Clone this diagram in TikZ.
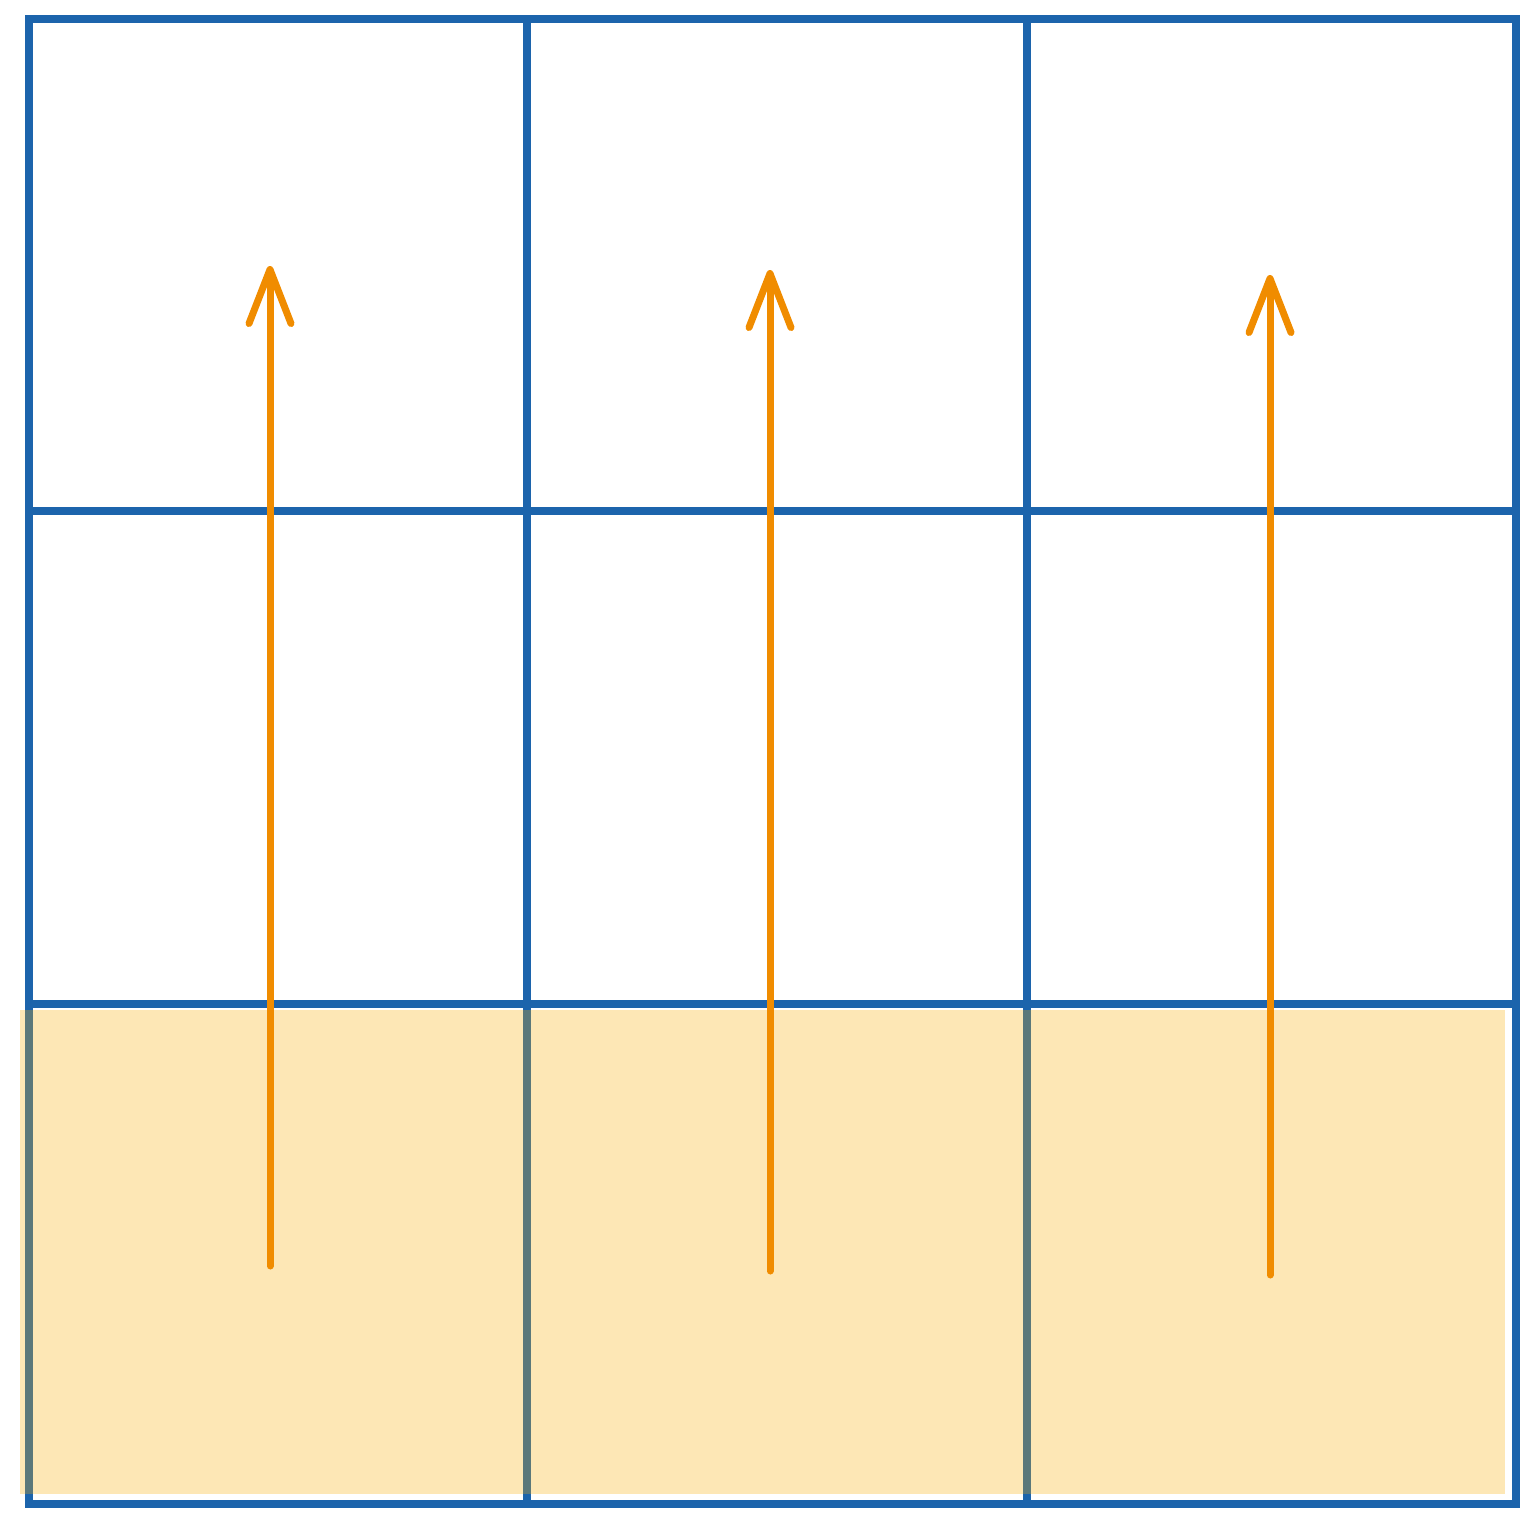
\documentclass[tikz,border=0pt]{standalone}
\usetikzlibrary{arrows.meta}
\definecolor{gridblue}{HTML}{1C64AC}
\definecolor{arrorange}{HTML}{F08C00}
\definecolor{fillyellow}{HTML}{F8AC00}
\tikzset{
  gridline/.style={draw=gridblue, line width=3.8pt},
  band/.style={fill=fillyellow, fill opacity=0.29},
  uparrow/.style={draw=arrorange, line width=3.5pt, line cap=round,
    -{Straight Barb[length=27pt, width=21pt, line cap=round, line join=round]}}
}
\begin{document}
\begin{tikzpicture}[x=0.5pt, y=-0.5pt]
\useasboundingbox (0,0) rectangle (1536,1526);
% grid
\draw[gridline] (29,19) rectangle (1516,1504);
\draw[gridline] (527,19) -- (527,1504);
\draw[gridline] (1027,19) -- (1027,1504);
\draw[gridline] (25,511) -- (1516,511);
\draw[gridline] (29,1004) -- (1516,1004);
% band
\fill[band] (20,1010) rectangle (1505,1494);
% arrows
\coordinate (s1) at (270,1266); \coordinate (e1) at (270,266);
\coordinate (s2) at (770,1271); \coordinate (e2) at (770,270);
\coordinate (s3) at (1270,1275); \coordinate (e3) at (1270,275);
\draw[uparrow] (s1) -- (e1);
\draw[uparrow] (s2) -- (e2);
\draw[uparrow] (s3) -- (e3);
\end{tikzpicture}
\end{document}
